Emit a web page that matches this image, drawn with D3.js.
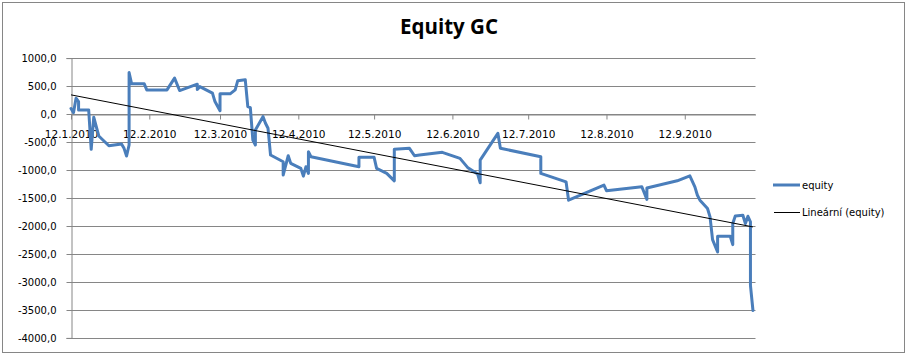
<!DOCTYPE html>
<html><head><meta charset="utf-8">
<script src="https://cdn.jsdelivr.net/npm/d3@7"></script>
<style>
html,body{margin:0;padding:0;background:#fff;}
svg{display:block;}
text{font-family:"DejaVu Sans",sans-serif;}
</style></head>
<body>
<svg id="chart" width="908" height="356"></svg>
<script>
const title = "Equity GC";
const dates = ["2010-01-12","2010-01-13","2010-01-14","2010-01-15","2010-01-15","2010-01-19","2010-01-20","2010-01-21","2010-01-23","2010-01-27",
"2010-02-01","2010-02-02","2010-02-03","2010-02-04","2010-02-04","2010-02-05","2010-02-10","2010-02-11","2010-02-19","2010-02-22",
"2010-02-24","2010-03-03","2010-03-03","2010-03-04","2010-03-09","2010-03-10","2010-03-12","2010-03-12","2010-03-16","2010-03-18",
"2010-03-19","2010-03-22","2010-03-23","2010-03-24","2010-03-25","2010-03-26","2010-03-26","2010-03-29","2010-03-30","2010-03-31",
"2010-04-01","2010-04-06","2010-04-06","2010-04-08","2010-04-09","2010-04-13","2010-04-14","2010-04-15","2010-04-16","2010-04-16",
"2010-04-17","2010-05-06","2010-05-06","2010-05-12","2010-05-13","2010-05-17","2010-05-20","2010-05-20","2010-05-26","2010-05-28",
"2010-05-30","2010-06-08","2010-06-15","2010-06-18","2010-06-22","2010-06-23","2010-06-23","2010-06-30","2010-07-01","2010-07-17",
"2010-07-17","2010-07-27","2010-07-28","2010-08-11","2010-08-12","2010-08-26","2010-08-28","2010-08-28","2010-09-09","2010-09-14",
"2010-09-16","2010-09-17","2010-09-18","2010-09-21","2010-09-22","2010-09-23","2010-09-25","2010-09-25","2010-09-30","2010-10-01",
"2010-10-01","2010-10-02","2010-10-05","2010-10-06","2010-10-07","2010-10-08","2010-10-08","2010-10-08","2010-10-09"];
const equity = [100,26,283,223,74,74,-630,-57,-392,-566,
-535,-613,-750,-553,743,540,540,432,432,642,
420,534,440,490,373,223,61,361,361,432,
594,612,133,115,-464,-553,-284,-46,-164,-254,
-732,-852,-1091,-745,-881,-971,-1109,-942,-1060,-673,
-763,-942,-774,-774,-971,-1060,-1193,-630,-612,-745,
-732,-684,-792,-953,-1073,-1229,-822,-344,-612,-763,
-1060,-1211,-1539,-1270,-1370,-1300,-1526,-1320,-1193,-1103,
-1300,-1450,-1539,-1688,-1838,-2243,-2465,-2184,-2184,-2333,
-1956,-1820,-1808,-1956,-1826,-1928,-2017,-3062,-3510];
const trendDates = ["2010-01-12","2010-10-09"];
const trendValues = [343,-2017];
const xDomain = ["2010-01-12","2010-10-10"];
const xTicks = ["2010-01-12","2010-02-12","2010-03-12","2010-04-12","2010-05-12","2010-06-12","2010-07-12","2010-08-12","2010-09-12"];
const yTicks = [1000,500,0,-500,-1000,-1500,-2000,-2500,-3000,-3500,-4000];
const legendLabels = ["equity","Lineární (equity)"];

const parse = d3.timeParse("%Y-%m-%d");
const fmtDate = d3.timeFormat("%-d.%-m.%Y");
const fmtVal = v => d3.format(".1f")(v).replace(".", ",").replace("\u2212","-");

const svg = d3.select("#chart");
const L = 71, R = 755.5, T = 58.1, B = 337.9;
const x = d3.scaleTime().domain(xDomain.map(parse)).range([L, R]);
const y = d3.scaleLinear().domain([-4000, 1000]).range([B, T]);

// chart border
svg.append("rect").attr("x",2.5).attr("y",2.5).attr("width",902).attr("height",350)
  .attr("fill","#fff").attr("stroke","#868686").attr("stroke-width",1);

// title
svg.append("text").attr("x",449).attr("y",34).attr("text-anchor","middle")
  .style("font-family","'Open Sans',sans-serif").style("font-weight","700").style("font-size","20.5px")
  .attr("fill","#000").text(title);

// gridlines
svg.append("g").selectAll("line").data(yTicks).join("line")
  .attr("x1",L).attr("x2",R)
  .attr("y1",d=>Math.round(y(d))+0.5).attr("y2",d=>Math.round(y(d))+0.5)
  .attr("stroke","#868686").attr("stroke-width",1);

// y axis
const yAxis = d3.axisLeft(y).tickValues(yTicks).tickSize(5).tickFormat(fmtVal);
const gy = svg.append("g").attr("transform",`translate(${L+0.5},0)`).call(yAxis);
gy.select(".domain").attr("stroke","#868686");
gy.selectAll(".tick line").attr("stroke","#868686");
gy.selectAll(".tick").attr("transform",d=>`translate(0,${Math.round(y(d))+0.5})`);
gy.selectAll(".tick text").attr("x",-15).attr("fill","#000")
  .style("font-family","'DejaVu Sans',sans-serif").style("font-size","10px");

// x axis at zero
const xAxis = d3.axisBottom(x).tickValues(xTicks.map(parse)).tickSize(5).tickSizeOuter(0).tickFormat(fmtDate);
const gx = svg.append("g").attr("transform",`translate(0,${Math.round(y(0))+0.5})`).call(xAxis);
gx.select(".domain").attr("stroke","#868686");
gx.selectAll(".tick line").attr("stroke","#868686");
gx.selectAll(".tick text").attr("y",17).attr("dy","0.6em").attr("fill","#000")
  .style("font-family","'DejaVu Sans',sans-serif").style("font-size","10.5px");

// equity line
const pts = dates.map((d,i)=>({date:parse(d), value:equity[i]}));
const line = d3.line().x(d=>x(d.date)).y(d=>y(d.value));
svg.append("path").datum(pts).attr("d",line).attr("fill","none")
  .attr("stroke","#4A7EBB").attr("stroke-width",3).attr("stroke-linejoin","round").attr("stroke-linecap","round");

// trendline
const tpts = trendDates.map((d,i)=>({date:parse(d), value:trendValues[i]}));
svg.append("path").datum(tpts).attr("d",line).attr("fill","none")
  .attr("stroke","#000").attr("stroke-width",1);

// legend
const lg = svg.append("g");
const ly = [185, 212];
lg.append("line").attr("x1",773).attr("x2",800).attr("y1",ly[0]).attr("y2",ly[0])
  .attr("stroke","#4A7EBB").attr("stroke-width",3);
lg.append("line").attr("x1",774).attr("x2",800).attr("y1",ly[1]+0.5).attr("y2",ly[1]+0.5)
  .attr("stroke","#000").attr("stroke-width",1);
lg.selectAll("text").data(legendLabels).join("text")
  .attr("x",802).attr("y",(d,i)=>ly[i]+3.5).attr("fill","#000")
  .style("font-family","'DejaVu Sans',sans-serif").style("font-size","10px").text(d=>d);
</script>
</body></html>
